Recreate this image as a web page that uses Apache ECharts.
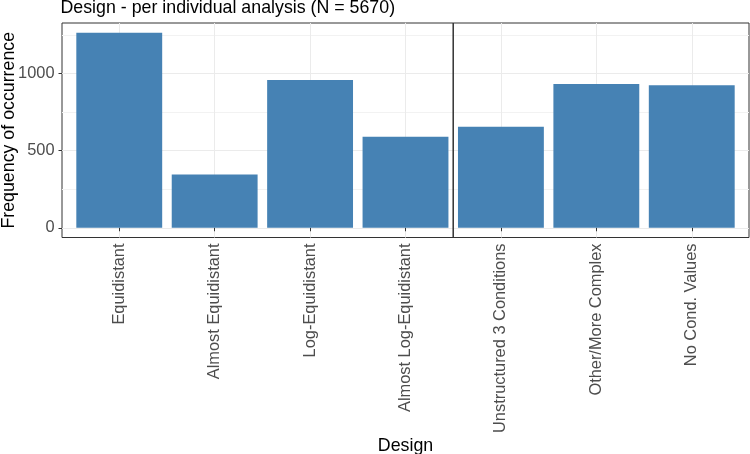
<!DOCTYPE html>
<html>
<head>
<meta charset="utf-8">
<script src="https://cdn.jsdelivr.net/npm/echarts@6/dist/echarts.min.js"></script>
<style>
html,body{margin:0;padding:0;background:#fff;}
#chart{width:750px;height:454px;}
</style>
</head>
<body>
<div id="chart"></div>
<script>
// ---- data ----
const categories = ["Equidistant", "Almost Equidistant", "Log-Equidistant", "Almost Log-Equidistant",
  "Unstructured 3 Conditions", "Other/More Complex", "No Cond. Values"];
const counts = [1265, 345, 958, 590, 655, 932, 925];
const majorTicks = [0, 500, 1000];
const minorStep = 250;
const dividerX = 4.5;
const titleText = "Design - per individual analysis (N = 5670)";
const xTitle = "Design";
const yTitle = "Frequency of occurrence";

// ---- layout (ggplot-like panel) ----
const W = 750, H = 454;
const panel = {left: 62, right: 749, top: 23, bottom: 237.5};
const maxVal = Math.max.apply(null, counts);
const yMin = -0.05 * maxVal, yMax = 1.05 * maxVal;
const xMin = 0.4, xMax = categories.length + 0.6;
const yToPx = v => panel.bottom - (v - yMin) / (yMax - yMin) * (panel.bottom - panel.top);
const xToPx = v => panel.left + (v - xMin) / (xMax - xMin) * (panel.right - panel.left);
const minorTop = Math.floor(yMax / minorStep) * minorStep;
const majorTop = majorTicks[majorTicks.length - 1];
const majorInt = majorTicks[1] - majorTicks[0];

const font = "'Liberation Sans', Arial, Helvetica, sans-serif";
const gridBase = {outerBoundsMode: 'none', containLabel: false};

const chart = echarts.init(document.getElementById('chart'), null, {renderer: 'canvas'});
chart.setOption({
  animation: false,
  backgroundColor: '#ffffff',
  textStyle: {fontFamily: font},
  title: {
    text: titleText, left: 60.5, top: -1, padding: 0,
    textStyle: {fontFamily: font, fontSize: 17.8, fontWeight: 'normal', color: '#000'}
  },
  grid: [
    // 0: panel (border, divider, y title)
    Object.assign({left: panel.left, right: W - panel.right, top: panel.top, bottom: H - panel.bottom,
      show: true, borderColor: '#333333', borderWidth: 1, backgroundColor: 'transparent'}, gridBase),
    // 1: minor y grid lines
    Object.assign({left: panel.left, right: W - panel.right, top: yToPx(minorTop), bottom: H - yToPx(0)}, gridBase),
    // 2: major y grid lines + labels
    Object.assign({left: panel.left, right: W - panel.right, top: yToPx(majorTop), bottom: H - yToPx(0)}, gridBase),
    // 3: categories + bars
    Object.assign({left: xToPx(1), right: W - xToPx(categories.length), top: panel.top, bottom: H - panel.bottom}, gridBase)
  ],
  xAxis: [
    {gridIndex: 0, type: 'value', min: xMin, max: xMax, show: false},
    {gridIndex: 1, type: 'value', min: 0, max: 1, show: false},
    {gridIndex: 2, type: 'value', min: 0, max: 1, show: false},
    {gridIndex: 3, type: 'category', data: categories, boundaryGap: false,
      axisLine: {show: false},
      axisTick: {show: true, length: 3.5, lineStyle: {color: '#333333', width: 1}},
      axisLabel: {rotate: 90, margin: 6, fontSize: 16.4, color: '#4D4D4D', fontFamily: font, interval: 0},
      splitLine: {show: true, lineStyle: {color: '#EBEBEB', width: 1}},
      name: xTitle, nameLocation: 'middle', nameGap: 198,
      nameTextStyle: {fontSize: 17.8, color: '#000', fontFamily: font}
    }
  ],
  yAxis: [
    {gridIndex: 0, type: 'value', min: yMin, max: yMax,
      axisLine: {show: false}, axisTick: {show: false}, axisLabel: {show: false}, splitLine: {show: false},
      name: yTitle, nameLocation: 'middle', nameGap: 44,
      nameTextStyle: {fontSize: 17.8, color: '#000', fontFamily: font}
    },
    {gridIndex: 1, type: 'value', min: 0, max: minorTop, interval: minorStep,
      axisLine: {show: false}, axisTick: {show: false}, axisLabel: {show: false},
      splitLine: {show: true, lineStyle: {color: '#F2F2F2', width: 1}}
    },
    {gridIndex: 2, type: 'value', min: 0, max: majorTop, interval: majorInt,
      axisLine: {show: false},
      axisTick: {show: true, length: 3.5, lineStyle: {color: '#333333', width: 1}},
      axisLabel: {show: true, margin: 7.5, fontSize: 16.4, color: '#4D4D4D', fontFamily: font,
        formatter: v => String(v)},
      splitLine: {show: true, lineStyle: {color: '#EBEBEB', width: 1}}
    },
    {gridIndex: 3, type: 'value', min: yMin, max: yMax, show: false}
  ],
  series: [
    {type: 'bar', xAxisIndex: 3, yAxisIndex: 3, data: counts, barWidth: '90%', clip: false,
      itemStyle: {color: '#4682B4'}, silent: true, z: 3},
    {type: 'line', xAxisIndex: 0, yAxisIndex: 0, data: [[dividerX, yMin], [dividerX, yMax]],
      symbol: 'none', silent: true, z: 4, lineStyle: {color: '#333333', width: 1.5}}
  ]
});
</script>
</body>
</html>
